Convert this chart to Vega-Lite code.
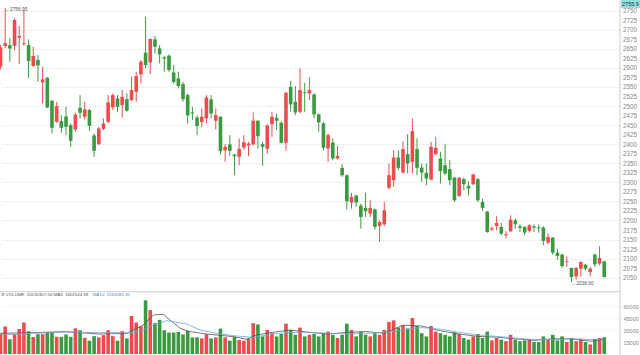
{
"$schema": "https://vega.github.io/schema/vega-lite/v6.json",
"width": 620, "height": 355,
"autosize": {"type": "none"},
"padding": {"left": 0, "top": 0, "right": 20, "bottom": 0},
"background": "white",
"config": {"view": {"stroke": null}, "font": "Liberation Sans", "axis": {"labelOverlap": false, "labelBound": false}},
"datasets": {
"k": [
{"i":0,"o":2603.1,"h":2660.0,"l":2596.1,"c":2653.9,"v":25620},
{"i":1,"o":2657.4,"h":2756.95,"l":2651.2,"c":2664.4,"v":34530},
{"i":2,"o":2659.1,"h":2677.5,"l":2616.2,"c":2651.2,"v":18300},
{"i":3,"o":2658.2,"h":2730.0,"l":2646.9,"c":2725.6,"v":24770},
{"i":4,"o":2679.2,"h":2709.9,"l":2610.1,"c":2683.6,"v":31230},
{"i":5,"o":2661.7,"h":2751.9,"l":2658.2,"c":2664.4,"v":39410},
{"i":6,"o":2660.0,"h":2674.9,"l":2574.2,"c":2618.0,"v":28430},
{"i":7,"o":2604.9,"h":2655.6,"l":2603.1,"c":2631.1,"v":21110},
{"i":8,"o":2620.6,"h":2633.7,"l":2563.7,"c":2606.6,"v":24770},
{"i":9,"o":2562.0,"h":2603.1,"l":2506.9,"c":2569.9,"v":24770},
{"i":10,"o":2574.2,"h":2576.0,"l":2494.6,"c":2496.4,"v":27210},
{"i":11,"o":2513.9,"h":2515.6,"l":2428.1,"c":2443.0,"v":27210},
{"i":12,"o":2458.7,"h":2511.2,"l":2456.1,"c":2499.9,"v":21470},
{"i":13,"o":2460.5,"h":2476.2,"l":2429.9,"c":2443.0,"v":21470},
{"i":14,"o":2472.7,"h":2498.1,"l":2423.7,"c":2445.6,"v":24400},
{"i":15,"o":2450.0,"h":2454.4,"l":2393.1,"c":2408.9,"v":21470},
{"i":16,"o":2438.6,"h":2482.4,"l":2432.5,"c":2477.1,"v":32090},
{"i":17,"o":2495.5,"h":2528.7,"l":2467.5,"c":2482.4,"v":29650},
{"i":18,"o":2471.9,"h":2511.2,"l":2464.9,"c":2491.1,"v":20250},
{"i":19,"o":2489.4,"h":2492.9,"l":2435.1,"c":2448.2,"v":16590},
{"i":20,"o":2422.9,"h":2428.1,"l":2366.9,"c":2382.6,"v":22330},
{"i":21,"o":2400.1,"h":2445.6,"l":2397.5,"c":2441.2,"v":20740},
{"i":22,"o":2440.4,"h":2467.5,"l":2436.9,"c":2454.4,"v":23550},
{"i":23,"o":2458.7,"h":2528.7,"l":2454.4,"c":2509.5,"v":29650},
{"i":24,"o":2496.4,"h":2533.1,"l":2489.4,"c":2528.7,"v":22330},
{"i":25,"o":2520.0,"h":2528.7,"l":2485.0,"c":2498.1,"v":16590},
{"i":26,"o":2502.5,"h":2541.9,"l":2470.1,"c":2524.4,"v":28430},
{"i":27,"o":2518.2,"h":2533.1,"l":2485.0,"c":2487.6,"v":19520},
{"i":28,"o":2515.6,"h":2576.9,"l":2513.0,"c":2541.9,"v":47580},
{"i":29,"o":2537.5,"h":2590.0,"l":2511.2,"c":2578.6,"v":39410},
{"i":30,"o":2583.0,"h":2620.6,"l":2559.4,"c":2616.2,"v":34530},
{"i":31,"o":2639.9,"h":2734.4,"l":2598.7,"c":2607.5,"v":67100},
{"i":32,"o":2614.5,"h":2677.5,"l":2583.9,"c":2675.7,"v":54900},
{"i":33,"o":2674.9,"h":2683.6,"l":2638.1,"c":2655.6,"v":38550},
{"i":34,"o":2651.2,"h":2660.0,"l":2611.9,"c":2635.5,"v":42700},
{"i":35,"o":2627.6,"h":2631.1,"l":2590.0,"c":2624.1,"v":29650},
{"i":36,"o":2632.0,"h":2635.5,"l":2590.0,"c":2594.4,"v":26840},
{"i":37,"o":2588.2,"h":2607.5,"l":2559.4,"c":2562.9,"v":26840},
{"i":38,"o":2572.5,"h":2590.0,"l":2546.2,"c":2552.4,"v":27570},
{"i":39,"o":2557.6,"h":2563.7,"l":2511.2,"c":2518.2,"v":24400},
{"i":40,"o":2528.7,"h":2533.1,"l":2454.4,"c":2475.4,"v":28790},
{"i":41,"o":2483.2,"h":2498.1,"l":2463.1,"c":2480.6,"v":20740},
{"i":42,"o":2470.1,"h":2476.2,"l":2423.7,"c":2447.4,"v":20740},
{"i":43,"o":2457.9,"h":2493.7,"l":2445.6,"c":2471.9,"v":19520},
{"i":44,"o":2467.5,"h":2528.7,"l":2454.4,"c":2522.6,"v":24770},
{"i":45,"o":2517.4,"h":2528.7,"l":2467.5,"c":2480.6,"v":19520},
{"i":46,"o":2461.4,"h":2493.7,"l":2438.6,"c":2476.2,"v":20740},
{"i":47,"o":2471.9,"h":2473.6,"l":2373.0,"c":2381.7,"v":31720},
{"i":48,"o":2384.4,"h":2400.1,"l":2353.7,"c":2393.1,"v":20740},
{"i":49,"o":2399.2,"h":2423.7,"l":2369.5,"c":2382.6,"v":16590},
{"i":50,"o":2373.0,"h":2373.9,"l":2318.7,"c":2368.6,"v":21470},
{"i":51,"o":2366.9,"h":2415.0,"l":2345.0,"c":2387.9,"v":17450},
{"i":52,"o":2391.4,"h":2423.7,"l":2386.1,"c":2405.4,"v":16590},
{"i":53,"o":2396.6,"h":2406.2,"l":2368.6,"c":2401.9,"v":19520},
{"i":54,"o":2399.2,"h":2483.2,"l":2397.5,"c":2461.4,"v":38550},
{"i":55,"o":2461.4,"h":2463.1,"l":2388.7,"c":2421.1,"v":36970},
{"i":56,"o":2400.1,"h":2406.2,"l":2343.2,"c":2393.1,"v":22000},
{"i":57,"o":2387.9,"h":2452.6,"l":2375.6,"c":2449.1,"v":30000},
{"i":58,"o":2452.6,"h":2485.0,"l":2419.4,"c":2471.9,"v":26000},
{"i":59,"o":2469.2,"h":2480.6,"l":2436.9,"c":2461.4,"v":22000},
{"i":60,"o":2456.1,"h":2461.4,"l":2401.9,"c":2403.6,"v":25000},
{"i":61,"o":2403.6,"h":2537.5,"l":2382.6,"c":2534.9,"v":38000},
{"i":62,"o":2550.6,"h":2566.4,"l":2485.0,"c":2504.2,"v":30000},
{"i":63,"o":2511.2,"h":2552.4,"l":2476.2,"c":2483.2,"v":24000},
{"i":64,"o":2485.0,"h":2598.7,"l":2480.6,"c":2541.9,"v":33000},
{"i":65,"o":2536.6,"h":2561.1,"l":2485.0,"c":2534.9,"v":22000},
{"i":66,"o":2533.1,"h":2575.1,"l":2515.6,"c":2541.9,"v":24000},
{"i":67,"o":2530.5,"h":2533.1,"l":2467.5,"c":2478.0,"v":25000},
{"i":68,"o":2478.0,"h":2480.6,"l":2432.5,"c":2457.0,"v":22000},
{"i":69,"o":2454.4,"h":2458.7,"l":2384.4,"c":2390.5,"v":26000},
{"i":70,"o":2388.7,"h":2428.1,"l":2353.7,"c":2423.7,"v":28000},
{"i":71,"o":2404.5,"h":2415.0,"l":2358.1,"c":2362.5,"v":24000},
{"i":72,"o":2362.5,"h":2395.7,"l":2359.9,"c":2369.5,"v":20000},
{"i":73,"o":2338.0,"h":2347.6,"l":2314.4,"c":2318.7,"v":24000},
{"i":74,"o":2318.7,"h":2320.5,"l":2228.6,"c":2250.5,"v":38000},
{"i":75,"o":2247.0,"h":2272.3,"l":2231.2,"c":2261.9,"v":30000},
{"i":76,"o":2265.4,"h":2268.0,"l":2235.6,"c":2247.0,"v":22000},
{"i":77,"o":2239.1,"h":2244.4,"l":2178.7,"c":2209.4,"v":28000},
{"i":78,"o":2233.0,"h":2273.2,"l":2209.4,"c":2224.2,"v":24000},
{"i":79,"o":2218.1,"h":2253.1,"l":2209.4,"c":2233.0,"v":22000},
{"i":80,"o":2229.5,"h":2231.2,"l":2176.1,"c":2183.1,"v":26000},
{"i":81,"o":2185.7,"h":2200.6,"l":2143.7,"c":2196.2,"v":24000},
{"i":82,"o":2190.1,"h":2248.7,"l":2184.8,"c":2226.9,"v":30000},
{"i":83,"o":2285.5,"h":2349.4,"l":2281.1,"c":2318.7,"v":40000},
{"i":84,"o":2305.6,"h":2384.4,"l":2288.1,"c":2365.1,"v":42000},
{"i":85,"o":2365.1,"h":2384.4,"l":2331.9,"c":2338.0,"v":33000},
{"i":86,"o":2325.7,"h":2408.0,"l":2323.1,"c":2387.0,"v":36000},
{"i":87,"o":2373.9,"h":2426.4,"l":2323.1,"c":2349.4,"v":32000},
{"i":88,"o":2353.7,"h":2467.5,"l":2323.1,"c":2434.2,"v":45000},
{"i":89,"o":2387.0,"h":2415.0,"l":2318.7,"c":2338.0,"v":35000},
{"i":90,"o":2338.9,"h":2349.4,"l":2301.2,"c":2325.7,"v":26000},
{"i":91,"o":2324.9,"h":2349.4,"l":2292.5,"c":2310.0,"v":22000},
{"i":92,"o":2307.4,"h":2406.2,"l":2305.6,"c":2393.1,"v":35000},
{"i":93,"o":2373.9,"h":2419.4,"l":2371.2,"c":2390.5,"v":28000},
{"i":94,"o":2362.5,"h":2380.0,"l":2296.9,"c":2329.2,"v":26000},
{"i":95,"o":2345.0,"h":2400.1,"l":2318.7,"c":2323.1,"v":24000},
{"i":96,"o":2334.5,"h":2358.1,"l":2292.5,"c":2305.6,"v":22000},
{"i":97,"o":2312.6,"h":2314.4,"l":2248.7,"c":2253.1,"v":27000},
{"i":98,"o":2264.5,"h":2314.4,"l":2261.9,"c":2311.8,"v":25000},
{"i":99,"o":2308.2,"h":2312.6,"l":2279.4,"c":2295.1,"v":20000},
{"i":100,"o":2290.7,"h":2303.0,"l":2266.2,"c":2283.7,"v":18000},
{"i":101,"o":2295.1,"h":2323.1,"l":2292.5,"c":2320.5,"v":22000},
{"i":102,"o":2308.2,"h":2311.7,"l":2248.7,"c":2253.1,"v":25000},
{"i":103,"o":2248.7,"h":2257.5,"l":2225.1,"c":2233.0,"v":20000},
{"i":104,"o":2223.4,"h":2225.1,"l":2167.4,"c":2170.0,"v":28000},
{"i":105,"o":2176.1,"h":2184.8,"l":2172.6,"c":2179.6,"v":17000},
{"i":106,"o":2185.7,"h":2211.1,"l":2174.4,"c":2193.6,"v":20000},
{"i":107,"o":2183.1,"h":2193.6,"l":2161.2,"c":2165.6,"v":18000},
{"i":108,"o":2161.2,"h":2171.7,"l":2152.5,"c":2163.9,"v":16000},
{"i":109,"o":2171.7,"h":2213.7,"l":2170.0,"c":2202.3,"v":24000},
{"i":110,"o":2200.6,"h":2205.0,"l":2178.7,"c":2190.1,"v":18000},
{"i":111,"o":2184.8,"h":2190.1,"l":2170.0,"c":2180.5,"v":16000},
{"i":112,"o":2183.1,"h":2184.8,"l":2161.2,"c":2168.2,"v":17000},
{"i":113,"o":2172.6,"h":2190.1,"l":2168.2,"c":2187.5,"v":18000},
{"i":114,"o":2184.8,"h":2190.1,"l":2170.0,"c":2181.3,"v":15000},
{"i":115,"o":2182.2,"h":2190.1,"l":2168.2,"c":2179.6,"v":15000},
{"i":116,"o":2181.3,"h":2184.8,"l":2135.0,"c":2146.3,"v":22000},
{"i":117,"o":2142.0,"h":2165.6,"l":2137.6,"c":2156.9,"v":18000},
{"i":118,"o":2155.1,"h":2156.9,"l":2110.5,"c":2115.7,"v":24000},
{"i":119,"o":2115.7,"h":2126.2,"l":2097.4,"c":2107.0,"v":17000},
{"i":120,"o":2110.5,"h":2113.1,"l":2075.5,"c":2080.7,"v":22000},
{"i":121,"o":2091.2,"h":2106.1,"l":2078.1,"c":2093.0,"v":15000},
{"i":122,"o":2075.5,"h":2076.3,"l":2038.6,"c":2051.8,"v":20000},
{"i":123,"o":2053.6,"h":2078.1,"l":2044.9,"c":2075.5,"v":16000},
{"i":124,"o":2073.7,"h":2093.0,"l":2051.8,"c":2091.2,"v":19000},
{"i":125,"o":2084.2,"h":2086.9,"l":2069.4,"c":2073.7,"v":15000},
{"i":126,"o":2065.0,"h":2078.1,"l":2053.6,"c":2073.7,"v":12000},
{"i":127,"o":2110.5,"h":2113.1,"l":2078.1,"c":2085.1,"v":19000},
{"i":128,"o":2086.9,"h":2132.3,"l":2082.5,"c":2101.7,"v":20000},
{"i":129,"o":2093.0,"h":2093.9,"l":2050.1,"c":2051.8,"v":21000}
],
"ma": [
{"i":0,"m":25830,"s":"MA5"},{"i":7,"m":26670,"s":"MA5"},{"i":14,"m":27920,"s":"MA5"},{"i":21,"m":25000,"s":"MA5"},{"i":27,"m":25830,"s":"MA5"},{"i":28.4,"m":30000,"s":"MA5"},{"i":30.5,"m":36250,"s":"MA5"},{"i":32.7,"m":48750,"s":"MA5"},{"i":34.8,"m":49580,"s":"MA5"},{"i":36.2,"m":42500,"s":"MA5"},{"i":38.4,"m":32080,"s":"MA5"},{"i":40.5,"m":27920,"s":"MA5"},{"i":44,"m":25000,"s":"MA5"},{"i":49.8,"m":21670,"s":"MA5"},{"i":52.6,"m":18330,"s":"MA5"},{"i":54.7,"m":23750,"s":"MA5"},{"i":58,"m":27000,"s":"MA5"},{"i":62,"m":30000,"s":"MA5"},{"i":66,"m":27000,"s":"MA5"},{"i":70,"m":25000,"s":"MA5"},{"i":74,"m":27000,"s":"MA5"},{"i":78,"m":28000,"s":"MA5"},{"i":82,"m":26000,"s":"MA5"},{"i":86,"m":36000,"s":"MA5"},{"i":90,"m":35000,"s":"MA5"},{"i":94,"m":29000,"s":"MA5"},{"i":98,"m":25000,"s":"MA5"},{"i":102,"m":22000,"s":"MA5"},{"i":106,"m":21000,"s":"MA5"},{"i":110,"m":19000,"s":"MA5"},{"i":114,"m":17000,"s":"MA5"},{"i":118,"m":19000,"s":"MA5"},{"i":122,"m":19000,"s":"MA5"},{"i":126,"m":16000,"s":"MA5"},{"i":129,"m":18000,"s":"MA5"},
{"i":0,"m":23750,"s":"MA10"},{"i":7,"m":25830,"s":"MA10"},{"i":14,"m":27420,"s":"MA10"},{"i":21,"m":26670,"s":"MA10"},{"i":28.4,"m":26670,"s":"MA10"},{"i":30.5,"m":30000,"s":"MA10"},{"i":32.7,"m":36250,"s":"MA10"},{"i":35.5,"m":41670,"s":"MA10"},{"i":36.9,"m":40420,"s":"MA10"},{"i":39.8,"m":37500,"s":"MA10"},{"i":42.6,"m":30000,"s":"MA10"},{"i":46.2,"m":25830,"s":"MA10"},{"i":49.8,"m":22920,"s":"MA10"},{"i":54,"m":20830,"s":"MA10"},{"i":58,"m":25000,"s":"MA10"},{"i":62,"m":27000,"s":"MA10"},{"i":66,"m":27000,"s":"MA10"},{"i":70,"m":26000,"s":"MA10"},{"i":74,"m":25000,"s":"MA10"},{"i":78,"m":26000,"s":"MA10"},{"i":82,"m":27000,"s":"MA10"},{"i":86,"m":30000,"s":"MA10"},{"i":90,"m":33000,"s":"MA10"},{"i":94,"m":31000,"s":"MA10"},{"i":98,"m":27000,"s":"MA10"},{"i":102,"m":24000,"s":"MA10"},{"i":106,"m":22000,"s":"MA10"},{"i":110,"m":20000,"s":"MA10"},{"i":114,"m":18000,"s":"MA10"},{"i":118,"m":18000,"s":"MA10"},{"i":122,"m":19000,"s":"MA10"},{"i":126,"m":18000,"s":"MA10"},{"i":129,"m":17500,"s":"MA10"}
]
},
"layer": [
{
 "data": {"name": "k"},
 "encoding": {"x": {"field": "i", "type": "quantitative", "scale": {"domain": [-0.107, 132.37], "padding": 0, "nice": false, "zero": false}, "axis": null}},
 "layer": [
  {"mark": {"type": "rule", "strokeWidth": 1},
   "encoding": {
    "y": {"field": "l", "type": "quantitative", "scale": {"domain": [2050, 2750], "range": [277.7, 10.7], "nice": false, "zero": false},
      "axis": {"orient": "right", "title": null, "format": "d", "labelOverlap": false, "tickCount": 40, "values": [2050,2075,2100,2125,2150,2175,2200,2225,2250,2275,2300,2325,2350,2375,2400,2425,2450,2475,2500,2525,2550,2575,2600,2625,2650,2675,2700,2725,2750],
        "domain": false, "ticks": false, "labelFontSize": 6.3, "labelColor": "#888", "labelPadding": 2.5, "labelFlush": false,
        "grid": true, "gridColor": "#e3e3e3", "gridDash": [2, 2], "gridWidth": 1,
        "gridOpacity": {"condition": {"test": "datum.value % 50 === 0", "value": 1}, "value": 0}}},
    "y2": {"field": "h"},
    "color": {"condition": {"test": "datum.c >= datum.o", "value": "#ee4c4c"}, "value": "#3a9a40"}
   }},
  {"mark": {"type": "bar", "size": 3.6},
   "encoding": {
    "y": {"field": "o", "type": "quantitative"},
    "y2": {"field": "c"},
    "color": {"condition": {"test": "datum.c >= datum.o", "value": "#ee4c4c"}, "value": "#3a9a40"}
   }},
  {"data": {"values": [{"t": "保险(日线/前复权) ⚙"}]},
   "mark": {"type": "text", "align": "left", "baseline": "middle", "fontSize": 5, "color": "#555"},
   "encoding": {"x": {"datum": -0.1}, "y": {"datum": 2767}, "text": {"field": "t"}}},
  {"data": {"values": [{"i": 1, "p": 2756.95, "t": "←2756.95"}]},
   "mark": {"type": "text", "align": "left", "baseline": "middle", "fontSize": 4.8, "color": "#555", "dy": 1.5},
   "encoding": {"x": {"field": "i", "type": "quantitative"}, "y": {"field": "p", "type": "quantitative"}, "text": {"field": "t"}}},
  {"data": {"values": [{"i": 122, "p": 2038.6, "t": "←2038.60"}]},
   "mark": {"type": "text", "align": "left", "baseline": "middle", "fontSize": 4.8, "color": "#555", "dy": 1.5},
   "encoding": {"x": {"field": "i", "type": "quantitative"}, "y": {"field": "p", "type": "quantitative"}, "text": {"field": "t"}}},
  {"data": {"values": [{"a": 132.6, "b": 136.8, "p1": 2778, "p2": 2757.1}]},
   "mark": {"type": "rect", "color": "#8fe0df"},
   "encoding": {"x": {"field": "a", "type": "quantitative"}, "x2": {"field": "b"}, "y": {"field": "p1", "type": "quantitative"}, "y2": {"field": "p2"}}},
  {"data": {"values": [{"a": 132.8, "p": 2767.6, "t": "2755.9"}]},
   "mark": {"type": "text", "align": "left", "baseline": "middle", "fontSize": 5.5, "color": "#333"},
   "encoding": {"x": {"field": "a", "type": "quantitative"}, "y": {"field": "p", "type": "quantitative"}, "text": {"field": "t"}}}
 ]
},
{
 "layer": [
  {"data": {"name": "k"},
   "mark": {"type": "bar", "size": 3.6},
   "encoding": {
    "x": {"field": "i", "type": "quantitative"},
    "y": {"field": "v", "type": "quantitative", "stack": null, "scale": {"domain": [0, 60000], "range": [354, 306], "nice": false},
      "axis": {"orient": "right", "title": null, "format": "d", "labelOverlap": false, "tickCount": 10, "values": [15000, 30000, 45000, 60000], "domain": false, "ticks": false,
        "labelFontSize": 5.5, "labelColor": "#888", "labelPadding": 3, "grid": true, "gridColor": "#eeeeee", "gridDash": [2, 2]}},
    "color": {"condition": {"test": "datum.c >= datum.o", "value": "#ee4c4c"}, "value": "#3a9a40"}
   }},
  {"data": {"name": "ma"},
   "mark": {"type": "line", "strokeWidth": 0.8},
   "encoding": {
    "x": {"field": "i", "type": "quantitative"},
    "y": {"field": "m", "type": "quantitative"},
    "color": {"field": "s", "type": "nominal", "scale": {"domain": ["MA5", "MA10"], "range": ["#555555", "#6fa8dc"]}, "legend": null}
   }},
  {"data": {"values": [{"v": 77800}]},
   "mark": {"type": "rule", "color": "#cccccc", "strokeWidth": 1},
   "encoding": {"y": {"field": "v", "type": "quantitative"}}},
  {"data": {"values": [{"x": 132.37}]},
   "mark": {"type": "rule", "color": "#cccccc", "strokeWidth": 1},
   "encoding": {"x": {"field": "x", "type": "quantitative"}}},
  {"data": {"values": [{"x": 0, "v": 73800, "t": "⚙ VOLUME: 20230307.00 MA5: 1802544.38"}]},
   "mark": {"type": "text", "align": "left", "baseline": "middle", "fontSize": 4.4, "color": "#555"},
   "encoding": {"x": {"field": "x", "type": "quantitative"}, "y": {"field": "v", "type": "quantitative"}, "text": {"field": "t"}}},
  {"data": {"values": [{"x": 19.7, "v": 73800, "t": "MA10: 1584080.35"}]},
   "mark": {"type": "text", "align": "left", "baseline": "middle", "fontSize": 4.4, "color": "#4a90d9"},
   "encoding": {"x": {"field": "x", "type": "quantitative"}, "y": {"field": "v", "type": "quantitative"}, "text": {"field": "t"}}}
 ]
}
],
"resolve": {"scale": {"y": "independent", "color": "independent"}}
}
